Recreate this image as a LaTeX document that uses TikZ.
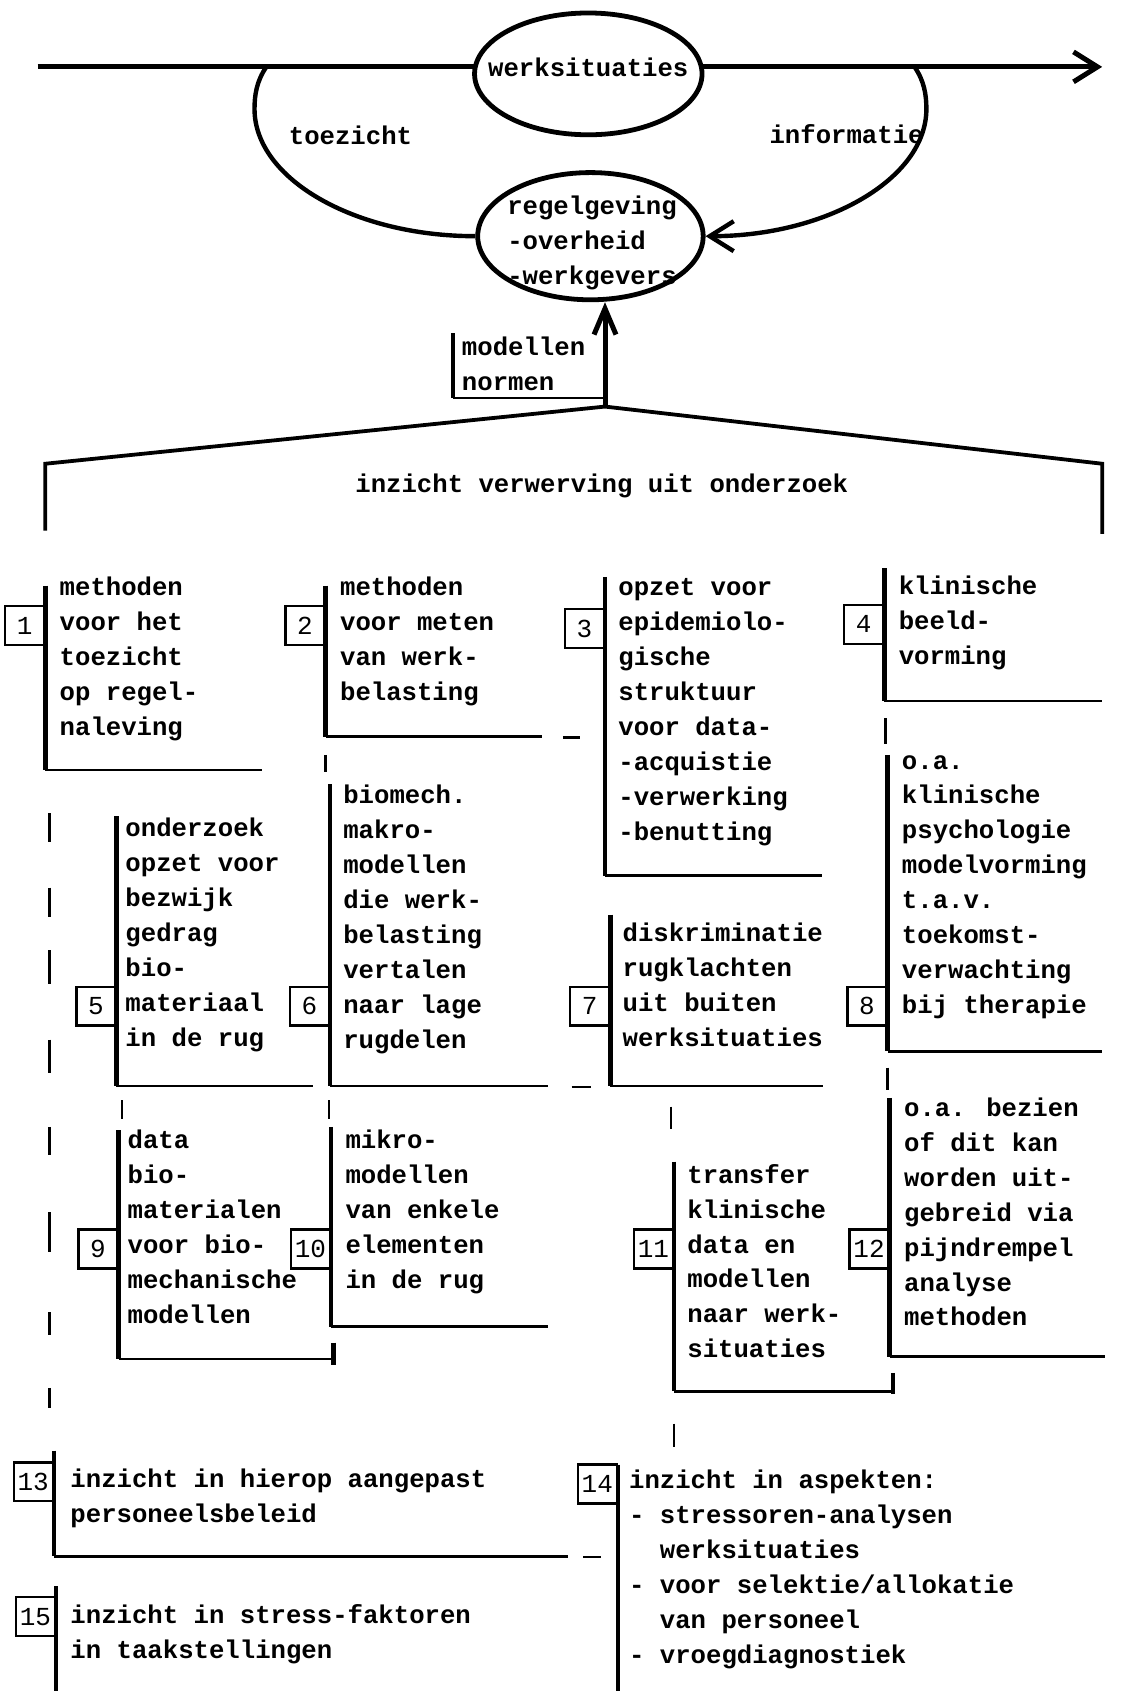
\documentclass[tikz,border=0pt]{standalone}
\usepackage{fontspec}
\setmainfont{Liberation Mono}
\usetikzlibrary{arrows.meta,shapes.geometric}
\begin{document}
\begin{tikzpicture}[x=0.54pt,y=0.54pt,
  txt/.style={anchor=north west,inner sep=0pt,align=left,font=\bfseries\fontsize{12.85}{17.5}\selectfont},
  lbl/.style={anchor=base,inner sep=0pt,font=\bfseries\fontsize{12.85}{17.5}\selectfont},
  num/.style={draw,line width=1.2pt,fill=white,minimum width=19.5pt,minimum height=19.5pt,inner sep=0pt,anchor=east,font=\fontsize{13}{13}\selectfont},
  ellip/.style={draw,ellipse,line width=2.4pt,fill=white,inner sep=0pt},
  mainln/.style={line width=2.5pt},
  arcln/.style={line width=2.2pt},
  bar/.style={line width=2.3pt},
  rule/.style={line width=1.3pt},
  stub/.style={line width=1.2pt},
  barb/.style={-{Straight Barb[length=12pt,width=15pt]}}
]
\useasboundingbox (0,0) rectangle (1046,-1568);

% ---- top part ----
\coordinate (L) at (35,-62);
\coordinate (R) at (1022,-62);
\draw[mainln,barb] (L) -- (R);
\node[ellip,minimum width=113.9pt,minimum height=61pt] (ws) at (545.5,-68.5) {};
\node[lbl] (wst) at (545.5,-71) {werksituaties};

\node[ellip,minimum width=112.9pt,minimum height=63.7pt] (rg) at (547.5,-219) {};
\node[txt] (rgt) at (470,-176) {\strut regelgeving\\-overheid\\-werkgevers};

\coordinate (al) at (247,-62);
\coordinate (ar) at (848,-62);
\draw[arcln] (al) .. controls (238,-75) and (236,-88) .. (236,-101)
  .. controls (236,-166) and (329,-219) .. (rg.west);
\draw[arcln,barb] (ar) .. controls (857,-75) and (859,-88) .. (859,-101)
  .. controls (859,-166) and (766,-219) .. (rg.east);

\node[lbl] (tz) at (325,-134) {toezicht};
\node[lbl] (inf) at (785,-133) {informatie};

\coordinate (pk) at (561,-377);
\draw[mainln,-{Straight Barb[length=13pt,width=11pt]}] (pk) -- (pk |- rg.south);
\draw[bar] (420,-309) -- (420,-369);
\draw[rule] (420,-369) -- (pk |- 0,-369);
\node[txt] (mn) at (428,-307) {\strut modellen\\normen};

\draw[line width=1.9pt] (42,-492) -- (42,-430) -- (pk) -- (1022,-430) -- (1022,-495);
\node[lbl] (iv) at (558,-457) {inzicht verwerving uit onderzoek};

% ---- row 1 ----
\node[num] (n1) at (42,-580) {1};
\draw[bar] (42,-543) -- (42,-714);
\draw[rule] (42,-714) -- (243,-714);
\node[txt] (t1) at (55,-529) {\strut methoden\\voor het\\toezicht\\op regel-\\naleving};

\node[num] (n2) at (302,-580) {2};
\draw[bar] (302,-543) -- (302,-683);
\draw[rule] (302,-683) -- (503,-683);
\node[txt] (t2) at (315,-529) {\strut methoden\\voor meten\\van werk-\\belasting};

\node[num] (n3) at (561,-583) {3};
\draw[bar] (561,-535) -- (561,-812);
\draw[rule] (561,-812) -- (762,-812);
\node[txt] (t3) at (573,-529) {\strut opzet voor\\epidemiolo-\\gische\\struktuur\\voor data-\\-acquistie\\-verwerking\\-benutting};

\node[num] (n4) at (820,-579) {4};
\draw[bar] (820,-527) -- (820,-650);
\draw[rule] (820,-650) -- (1022,-650);
\node[txt] (t4) at (833,-528) {\strut klinische\\beeld-\\vorming};

% ---- row 2 ----
\node[num] (n5) at (108,-933) {5};
\draw[bar] (108,-757) -- (108,-1007);
\draw[rule] (108,-1007) -- (290,-1007);
\node[txt] (t5) at (116,-753) {\strut onderzoek\\opzet voor\\bezwijk\\gedrag\\bio-\\materiaal\\in de rug};

\node[num] (n6) at (306,-933) {6};
\draw[bar] (306,-727) -- (306,-1007);
\draw[rule] (306,-1007) -- (508,-1007);
\node[txt] (t6) at (318,-722) {\strut biomech.\\makro-\\modellen\\die werk-\\belasting\\vertalen\\naar lage\\rugdelen};

\node[num] (n7) at (566,-933) {7};
\draw[bar] (566,-848) -- (566,-1007);
\draw[rule] (566,-1007) -- (763,-1007);
\node[txt] (t7) at (577,-850) {\strut diskriminatie\\rugklachten\\uit buiten\\werksituaties};

\node[num] (n8) at (823,-933) {8};
\draw[bar] (823,-700) -- (823,-975);
\draw[rule] (823,-975) -- (1022,-975);
\node[txt] (t8) at (836,-690) {\strut o.a.\\klinische\\psychologie\\modelvorming\\t.a.v.\\toekomst-\\verwachting\\bij therapie};

% ---- row 3 ----
\node[num] (n9) at (110,-1158) {9};
\draw[bar] (110,-1048) -- (110,-1260);
\draw[rule] (110,-1260) -- (309,-1260);
\draw[bar] (309,-1245) -- (309,-1266);
\node[txt] (t9) at (118,-1042) {\strut data\\bio-\\materialen\\voor bio-\\mechanische\\modellen};

\node[num] (n10) at (307,-1158) {10};
\draw[bar] (307,-1045) -- (307,-1230);
\draw[rule] (307,-1230) -- (508,-1230);
\node[txt] (t10) at (320,-1042) {\strut mikro-\\modellen\\van enkele\\elementen\\in de rug};

\node[num] (n11) at (625,-1158) {11};
\draw[bar] (625,-1077) -- (625,-1290);
\draw[rule] (625,-1290) -- (828,-1290);
\draw[bar] (828,-1273) -- (828,-1293);
\node[txt] (t11) at (637,-1074) {\strut transfer\\klinische\\data en\\modellen\\naar werk-\\situaties};

\node[num] (n12) at (825,-1158) {12};
\draw[bar] (825,-1018) -- (825,-1258);
\draw[rule] (825,-1258) -- (1025,-1258);
\node[txt] (t12) at (838,-1012) {\strut o.a. bezien\\of dit kan\\worden uit-\\gebreid via\\pijndrempel\\analyse\\methoden};

% ---- bottom ----
\node[num] (n13) at (50,-1374) {13};
\draw[bar] (50,-1345) -- (50,-1443);
\draw[rule] (50,-1443) -- (527,-1443);
\node[txt] (t13) at (65,-1356) {\strut inzicht in hierop aangepast\\personeelsbeleid};

\node[num] (n14) at (573,-1376) {14};
\draw[bar] (573,-1358) -- (573,-1568);
\node[txt] (t14) at (583,-1357) {\strut inzicht in aspekten:\\-~stressoren-analysen\\\phantom{-~}werksituaties\\-~voor selektie/allokatie\\\phantom{-~}van personeel\\-~vroegdiagnostiek};

\node[num] (n15) at (52,-1499) {15};
\draw[bar] (52,-1471) -- (52,-1568);
\node[txt] (t15) at (65,-1482) {\strut inzicht in stress-faktoren\\in taakstellingen};

% ---- stubs ----
\draw[stub] (302,-700) -- (302,-716);
\draw[stub] (522,-684) -- (538,-684);
\draw[stub] (821,-666) -- (821,-690);
\draw[stub] (823,-990) -- (823,-1011);
\draw[stub] (113,-1020) -- (113,-1038);
\draw[stub] (305,-1020) -- (305,-1038);
\draw[stub] (622,-1026) -- (622,-1047);
\draw[stub] (530,-1008) -- (548,-1008);
\draw[stub] (625,-1320) -- (625,-1342);
\draw[stub] (541,-1444) -- (557,-1444);
\foreach \a/\b in {754/781,823/850,881/912,964/995,1045/1071,1124/1161,1217/1238,1287/1306}
  \draw[stub] (46,-\a) -- (46,-\b);
\end{tikzpicture}
\end{document}
